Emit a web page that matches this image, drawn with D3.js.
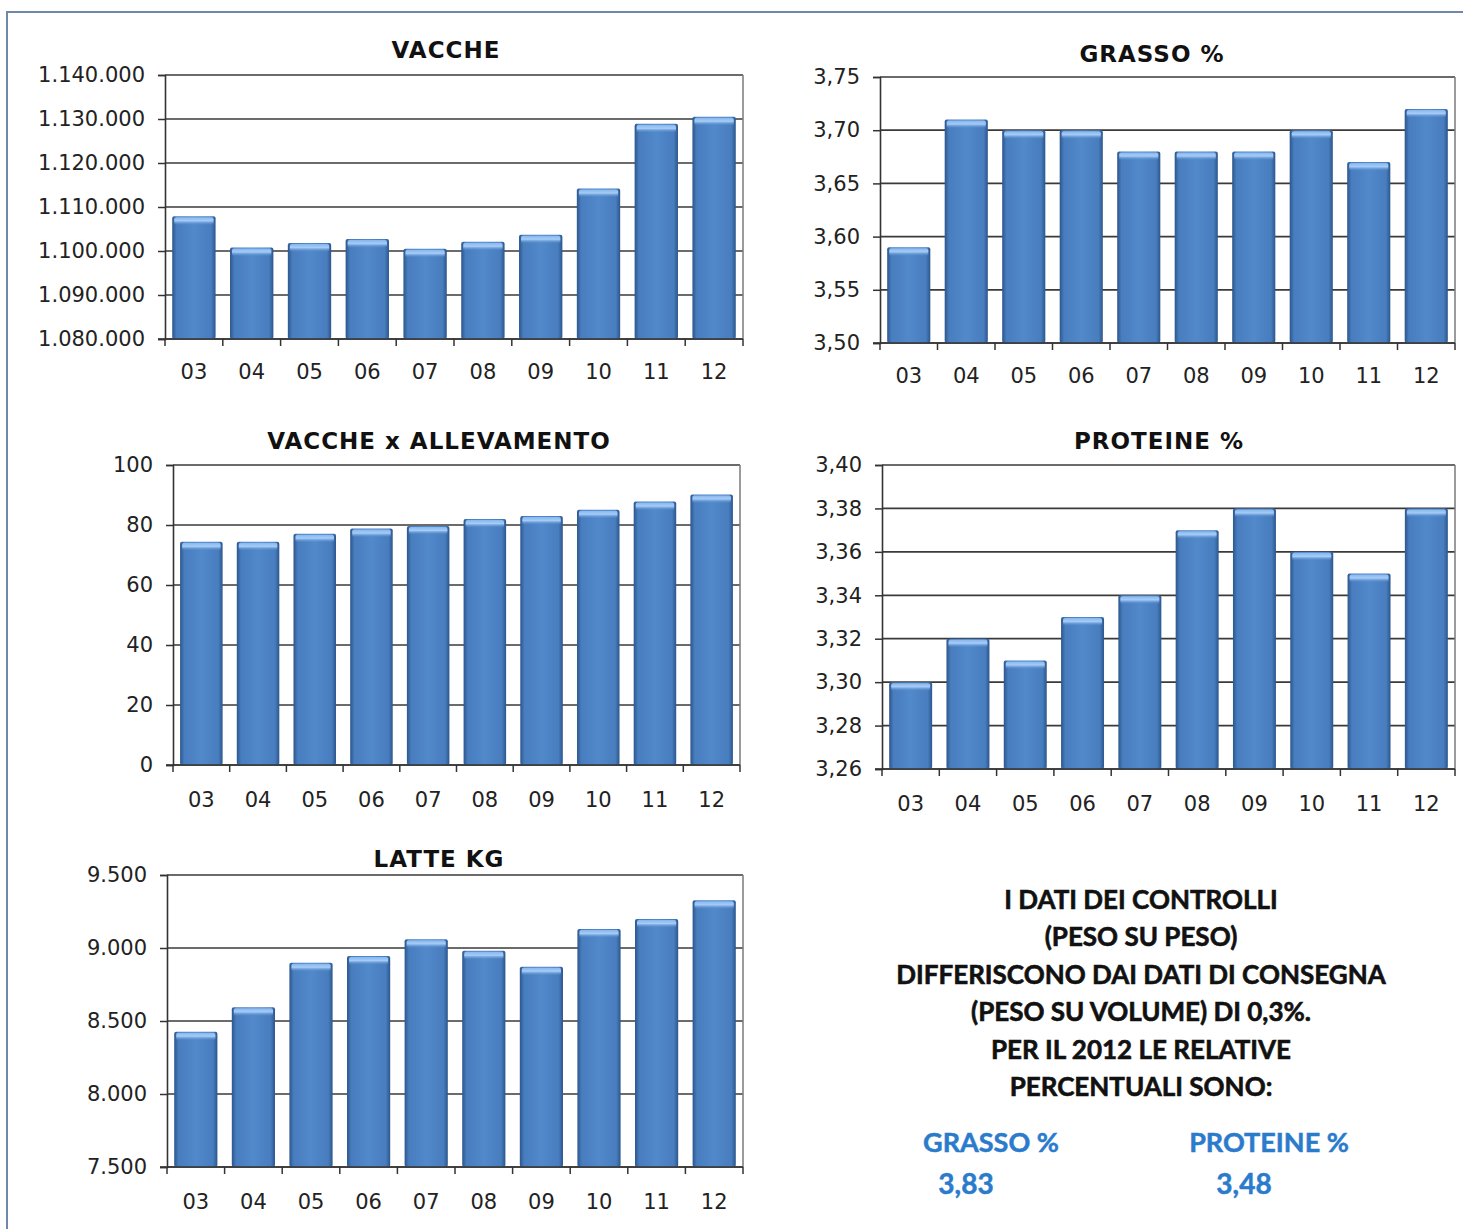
<!DOCTYPE html>
<html>
<head>
<meta charset="utf-8">
<script src="https://cdn.jsdelivr.net/npm/d3@7"></script>
<style>
  body { margin: 0; background: #fff; }
  svg { display: block; }
</style>
</head>
<body>
<div id="chart"></div>
<script>
// dati
const anni = ["03", "04", "05", "06", "07", "08", "09", "10", "11", "12"];
const vacche = [1107900, 1100800, 1101800, 1102700, 1100500, 1102100, 1103700, 1114200, 1128900, 1130500];
const grasso = [3.59, 3.71, 3.70, 3.70, 3.68, 3.68, 3.68, 3.70, 3.67, 3.72];
const vaccheAllevamento = [74.4, 74.4, 77.1, 78.8, 79.7, 82.0, 83.0, 85.1, 87.8, 90.2];
const proteine = [3.30, 3.32, 3.31, 3.33, 3.34, 3.37, 3.38, 3.36, 3.35, 3.38];
const latteKg = [8427, 8594, 8899, 8945, 9060, 8981, 8872, 9130, 9199, 9327];

const tickVacche = [1080000, 1090000, 1100000, 1110000, 1120000, 1130000, 1140000];
const tickGrasso = [3.50, 3.55, 3.60, 3.65, 3.70, 3.75];
const tickAllev = [0, 20, 40, 60, 80, 100];
const tickProteine = [3.26, 3.28, 3.30, 3.32, 3.34, 3.36, 3.38, 3.40];
const tickLatte = [7500, 8000, 8500, 9000, 9500];

const noteLines = [
  "I DATI DEI CONTROLLI",
  "(PESO SU PESO)",
  "DIFFERISCONO DAI DATI DI CONSEGNA",
  "(PESO SU VOLUME) DI 0,3%.",
  "PER IL 2012 LE RELATIVE",
  "PERCENTUALI SONO:"
];
const noteValues = [
  { label: "GRASSO %", value: "3,83" },
  { label: "PROTEINE %", value: "3,48" }
];

const it = d3.formatLocale({ decimal: ",", thousands: ".", grouping: [3], currency: ["€", ""] });

const W = 1463, H = 1229;
const svg = d3.select("#chart").append("svg")
  .attr("width", W)
  .attr("height", H);

// gradienti per le barre (effetto smussato stile Excel)
const defs = svg.append("defs");
const gradSide = defs.append("linearGradient").attr("id", "barSide")
  .attr("x1", "0").attr("x2", "1").attr("y1", "0").attr("y2", "0");
gradSide.append("stop").attr("offset", "0%").attr("stop-color", "#2c568d");
gradSide.append("stop").attr("offset", "10%").attr("stop-color", "#487dbe");
gradSide.append("stop").attr("offset", "50%").attr("stop-color", "#5189cb");
gradSide.append("stop").attr("offset", "90%").attr("stop-color", "#487dbe");
gradSide.append("stop").attr("offset", "100%").attr("stop-color", "#2c568d");

const gradTop = defs.append("linearGradient").attr("id", "barTop")
  .attr("x1", "0").attr("x2", "0").attr("y1", "0").attr("y2", "1");
gradTop.append("stop").attr("offset", "0%").attr("stop-color", "#86b6ee");
gradTop.append("stop").attr("offset", "45%").attr("stop-color", "#a6ccf7");
gradTop.append("stop").attr("offset", "100%").attr("stop-color", "#5189cb").attr("stop-opacity", 0);

// cornice
svg.append("path")
  .attr("d", `M7,${H + 5} L7,12 L${W + 5},12`)
  .attr("fill", "none")
  .attr("stroke", "#7088ab")
  .attr("stroke-width", 2);

const panels = [
  { title: "VACCHE", data: vacche, ticks: tickVacche, fmt: it.format(",.0f"),
    x0: 165, x1: 743, y0: 75, y1: 339, titleX: 446, titleY: 58, labelY: 379 },
  { title: "GRASSO %", data: grasso, ticks: tickGrasso, fmt: it.format(".2f"),
    x0: 880, x1: 1455, y0: 77, y1: 343, titleX: 1152, titleY: 62, labelY: 383 },
  { title: "VACCHE x ALLEVAMENTO", data: vaccheAllevamento, ticks: tickAllev, fmt: it.format(".0f"),
    x0: 173, x1: 740, y0: 465, y1: 765, titleX: 439, titleY: 449, labelY: 807 },
  { title: "PROTEINE %", data: proteine, ticks: tickProteine, fmt: it.format(".2f"),
    x0: 882, x1: 1455, y0: 465, y1: 769, titleX: 1159, titleY: 449, labelY: 811 },
  { title: "LATTE KG", data: latteKg, ticks: tickLatte, fmt: it.format(",.0f"),
    x0: 167, x1: 743, y0: 875, y1: 1167, titleX: 439, titleY: 867, labelY: 1209 }
];

panels.forEach(p => {
  const g = svg.append("g");

  const x = d3.scaleBand()
    .domain(anni)
    .range([p.x0, p.x1])
    .paddingInner(0.25)
    .paddingOuter(0.125);

  const y = d3.scaleLinear()
    .domain(d3.extent(p.ticks))
    .range([p.y1, p.y0]);

  // titolo
  g.append("text")
    .attr("x", p.titleX)
    .attr("y", p.titleY)
    .attr("text-anchor", "middle")
    .style("font-family", "'DejaVu Sans', Verdana, sans-serif")
    .style("font-weight", "bold")
    .style("font-size", "23px")
    .style("letter-spacing", "1px")
    .attr("fill", "#111")
    .text(p.title);

  // griglia
  g.append("g")
    .selectAll("line")
    .data(p.ticks)
    .join("line")
    .attr("x1", p.x0).attr("x2", p.x1)
    .attr("y1", d => y(d)).attr("y2", d => y(d))
    .attr("stroke", "#3a3a3a")
    .attr("stroke-width", 1.7);

  // bordo destro dell'area
  g.append("line")
    .attr("x1", p.x1).attr("x2", p.x1)
    .attr("y1", p.y0).attr("y2", p.y1)
    .attr("stroke", "#7a7a7a")
    .attr("stroke-width", 1.5);

  // barre
  const bars = g.append("g").selectAll("g")
    .data(p.data)
    .join("g");

  bars.append("rect")
    .attr("x", (d, i) => x(anni[i]))
    .attr("y", d => y(d))
    .attr("width", x.bandwidth())
    .attr("height", d => p.y1 - y(d))
    .attr("rx", 2)
    .attr("fill", "url(#barSide)");

  bars.append("rect")
    .attr("x", (d, i) => x(anni[i]) + 2)
    .attr("y", d => y(d) + 1)
    .attr("width", x.bandwidth() - 4)
    .attr("height", 8)
    .attr("rx", 2)
    .attr("fill", "url(#barTop)");

  // asse y
  const yAxis = g.append("g")
    .attr("transform", `translate(${p.x0},0)`)
    .call(d3.axisLeft(y).tickValues(p.ticks).tickFormat(p.fmt).tickSize(7).tickPadding(13));
  yAxis.select(".domain").attr("stroke", "#333").attr("stroke-width", 1.6);
  yAxis.selectAll(".tick line").attr("stroke", "#333").attr("stroke-width", 1.5);
  yAxis.selectAll(".tick text")
    .style("font-family", "'DejaVu Sans', Verdana, sans-serif")
    .style("font-size", "21px")
    .attr("fill", "#222");

  // asse x: tacche ai confini delle categorie
  const xAxis = g.append("g")
    .attr("transform", `translate(0,${p.y1})`);
  xAxis.append("line")
    .attr("x1", p.x0 - 7).attr("x2", p.x1)
    .attr("stroke", "#333")
    .attr("stroke-width", 1.6);
  const step = x.step();
  xAxis.selectAll("line.tk")
    .data(d3.range(anni.length + 1))
    .join("line")
    .attr("class", "tk")
    .attr("x1", i => p.x0 + i * step).attr("x2", i => p.x0 + i * step)
    .attr("y1", 0).attr("y2", 7)
    .attr("stroke", "#333")
    .attr("stroke-width", 1.5);

  g.append("g").selectAll("text")
    .data(anni)
    .join("text")
    .attr("x", d => x(d) + x.bandwidth() / 2)
    .attr("y", p.labelY)
    .attr("text-anchor", "middle")
    .style("font-family", "'DejaVu Sans', Verdana, sans-serif")
    .style("font-size", "21px")
    .attr("fill", "#222")
    .text(d => d);
});

// testo di nota
const note = svg.append("g");
note.selectAll("text")
  .data(noteLines)
  .join("text")
  .attr("x", 1141)
  .attr("y", (d, i) => 909 + i * 37.4)
  .attr("text-anchor", "middle")
  .style("font-family", "Lato, 'Open Sans', sans-serif")
  .style("font-weight", "bold")
  .style("font-size", "26px")
  .attr("fill", "#111")
  .attr("stroke", "#111")
  .attr("stroke-width", 0.6)
  .text(d => d);

const valX = [991, 1269];
note.selectAll("text.lbl")
  .data(noteValues)
  .join("text")
  .attr("class", "lbl")
  .attr("x", (d, i) => valX[i])
  .attr("y", 1152)
  .attr("text-anchor", "middle")
  .style("font-family", "Lato, 'Open Sans', sans-serif")
  .style("font-weight", "bold")
  .style("font-size", "27px")
  .attr("fill", "#2b7bcd")
  .attr("stroke", "#2b7bcd")
  .attr("stroke-width", 0.5)
  .text(d => d.label);

note.selectAll("text.val")
  .data(noteValues)
  .join("text")
  .attr("class", "val")
  .attr("x", (d, i) => valX[i] - 25)
  .attr("y", 1194)
  .attr("text-anchor", "middle")
  .style("font-family", "Lato, 'Open Sans', sans-serif")
  .style("font-weight", "bold")
  .style("font-size", "28px")
  .attr("fill", "#2b7bcd")
  .attr("stroke", "#2b7bcd")
  .attr("stroke-width", 0.5)
  .text(d => d.value);
</script>
</body>
</html>
